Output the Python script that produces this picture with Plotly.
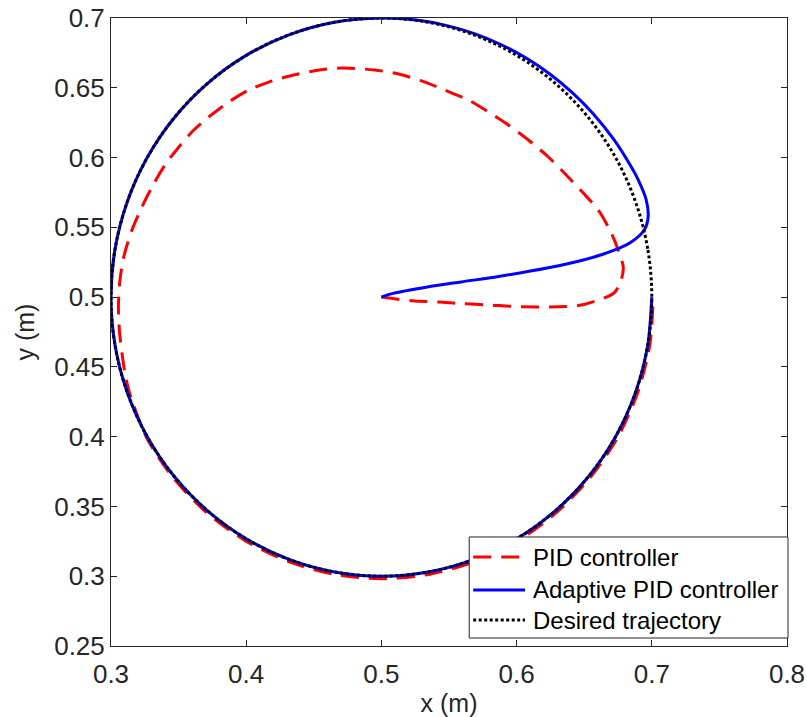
import plotly.graph_objects as go

# Desired circular trajectory (centre 0.5, 0.5; radius 0.2), every 10 degrees
desired_x = [0.7, 0.69696, 0.68794, 0.67321, 0.65321, 0.62856, 0.6, 0.5684, 0.53473, 0.5,
             0.46527, 0.4316, 0.4, 0.37144, 0.34679, 0.32679, 0.31206, 0.30304, 0.3,
             0.30304, 0.31206, 0.32679, 0.34679, 0.37144, 0.4, 0.4316, 0.46527, 0.5,
             0.53473, 0.5684, 0.6, 0.62856, 0.65321, 0.67321, 0.68794, 0.69696, 0.7]
desired_y = [0.5, 0.53473, 0.5684, 0.6, 0.62856, 0.65321, 0.67321, 0.68794, 0.69696, 0.7,
             0.69696, 0.68794, 0.67321, 0.65321, 0.62856, 0.6, 0.5684, 0.53473, 0.5,
             0.46527, 0.4316, 0.4, 0.37144, 0.34679, 0.32679, 0.31206, 0.30304, 0.3,
             0.30304, 0.31206, 0.32679, 0.34679, 0.37144, 0.4, 0.4316, 0.46527, 0.5]

# PID controller response
pid_x = [0.5, 0.5223, 0.5422, 0.5592, 0.5799, 0.6, 0.6309, 0.6479, 0.6648, 0.6722, 0.6774,
         0.6789, 0.6759, 0.670, 0.6604, 0.6479, 0.6353, 0.6235, 0.6087, 0.5939, 0.5792,
         0.5644, 0.5467, 0.5297, 0.5127, 0.495, 0.4706, 0.4507, 0.4315, 0.4167, 0.4019,
         0.3871, 0.3724, 0.3598, 0.3502, 0.3399, 0.3303, 0.3229, 0.3155, 0.3095, 0.3065,
         0.3055, 0.3062, 0.3081, 0.3103, 0.3135, 0.3265, 0.3460, 0.3705, 0.3993, 0.4310,
         0.4650, 0.5, 0.5350, 0.5690, 0.6008, 0.6293, 0.6541, 0.6744, 0.6893, 0.6984, 0.7010]
pid_y = [0.5, 0.4974, 0.4965, 0.4953, 0.4944, 0.4932, 0.4931, 0.4943, 0.4994, 0.503, 0.5123,
         0.5216, 0.5316, 0.546, 0.5624, 0.5760, 0.5889, 0.6004, 0.6126, 0.6233, 0.6326,
         0.6412, 0.6484, 0.6549, 0.6599, 0.6627, 0.6642, 0.6622, 0.6583, 0.6541, 0.6484,
         0.6398, 0.6291, 0.6183, 0.6076, 0.5947, 0.5789, 0.5646, 0.5481, 0.5290, 0.5110,
         0.4929, 0.4764, 0.46, 0.4456, 0.4320, 0.3990, 0.3706, 0.3458, 0.3255, 0.3106,
         0.3013, 0.2982, 0.3013, 0.3105, 0.3253, 0.3455, 0.3703, 0.3988, 0.4309, 0.4650, 0.4985]

# Adaptive PID controller response
apid_x = [0.5, 0.508, 0.535, 0.559, 0.5866, 0.6235, 0.6479, 0.6722, 0.6848, 0.6944, 0.6973,
          0.69586, 0.69005, 0.68477, 0.67213, 0.65665, 0.64137, 0.6248, 0.60704, 0.58829,
          0.56871, 0.5485, 0.5244, 0.5, 0.46527, 0.4316, 0.4, 0.37144, 0.34679, 0.32679,
          0.31206, 0.30304, 0.3, 0.30304, 0.31206, 0.32679, 0.34679, 0.37144, 0.4, 0.4316,
          0.46527, 0.5, 0.53473, 0.5684, 0.6, 0.62856, 0.65321, 0.67321, 0.68794, 0.69696, 0.7]
apid_y = [0.5, 0.5025, 0.5074, 0.5109, 0.5148, 0.5210, 0.5262, 0.5336, 0.5395, 0.5481, 0.5574,
          0.56975, 0.58381, 0.59334, 0.61264, 0.63145, 0.64638, 0.65973, 0.6713, 0.68102,
          0.68879, 0.69455, 0.6987, 0.7, 0.69696, 0.68794, 0.67321, 0.65321, 0.62856, 0.6,
          0.5684, 0.53473, 0.5, 0.46527, 0.4316, 0.4, 0.37144, 0.34679, 0.32679, 0.31206,
          0.30304, 0.3, 0.30304, 0.31206, 0.32679, 0.34679, 0.37144, 0.4, 0.4316, 0.46527, 0.5]

x_ticks = [0.3, 0.4, 0.5, 0.6, 0.7, 0.8]
y_ticks = [0.25, 0.3, 0.35, 0.4, 0.45, 0.5, 0.55, 0.6, 0.65, 0.7]

series_names = ["PID controller", "Adaptive PID controller", "Desired trajectory"]
series_colors = ["#ff0000", "#0000ff", "#000000"]
series_dashes = ["18px,10px", "solid", "3px,2.5px"]

FONT = "Liberation Sans, Arial, sans-serif"
AXIS_COLOR = "#262626"

fig = go.Figure()
fig.add_trace(go.Scatter(x=pid_x, y=pid_y, mode="lines", name=series_names[0],
                         line=dict(color=series_colors[0], width=3, dash=series_dashes[0],
                                   shape="spline", smoothing=0.8)))
fig.add_trace(go.Scatter(x=apid_x, y=apid_y, mode="lines", name=series_names[1],
                         line=dict(color=series_colors[1], width=3, dash=series_dashes[1],
                                   shape="spline", smoothing=0.8)))
fig.add_trace(go.Scatter(x=desired_x, y=desired_y, mode="lines", name=series_names[2],
                         line=dict(color=series_colors[2], width=3, dash=series_dashes[2],
                                   shape="spline", smoothing=1)))

axis_common = dict(
    showgrid=False, zeroline=False, showline=True, linecolor=AXIS_COLOR, linewidth=1,
    mirror="ticks", ticks="inside", ticklen=6, tickwidth=1, tickcolor=AXIS_COLOR,
    tickfont=dict(family=FONT, size=26, color=AXIS_COLOR),
)

fig.update_xaxes(range=[0.3, 0.8], tickvals=x_ticks, ticktext=[f"{v:g}" for v in x_ticks],
                 ticklabelstandoff=5,
                 title=dict(text="x (m)", font=dict(family=FONT, size=25, color=AXIS_COLOR),
                            standoff=10),
                 **axis_common)
fig.update_yaxes(range=[0.25, 0.7], tickvals=y_ticks, ticktext=[f"{v:g}" for v in y_ticks],
                 title=dict(text="y (m)", font=dict(family=FONT, size=25, color=AXIS_COLOR),
                            standoff=12),
                 **axis_common)

# Boxed legend in the lower-right corner of the axes (paper coordinates)
box_x0, box_x1, box_y0, box_y1 = 0.5299, 1.0015, 0.0127, 0.1736
row_y = [0.1417, 0.0892, 0.0414]
sample_x0, sample_x1, text_x = 0.5358, 0.6125, 0.6208

shapes = [dict(type="rect", xref="paper", yref="paper",
               x0=box_x0, x1=box_x1, y0=box_y0, y1=box_y1,
               line=dict(color=AXIS_COLOR, width=1), fillcolor="white", layer="above")]
annotations = []
for name, color, dash, yy in zip(series_names, series_colors, series_dashes, row_y):
    shapes.append(dict(type="line", xref="paper", yref="paper",
                       x0=sample_x0, x1=sample_x1, y0=yy, y1=yy, layer="above",
                       line=dict(color=color, width=3, dash=dash)))
    annotations.append(dict(xref="paper", yref="paper", x=text_x, y=yy,
                            xanchor="left", yanchor="middle", showarrow=False,
                            text=name, font=dict(family=FONT, size=24, color="#000000")))

fig.update_layout(
    width=807, height=717,
    margin=dict(l=110.5, r=20, t=18, b=71, autoexpand=False),
    paper_bgcolor="white", plot_bgcolor="white",
    showlegend=False,
    shapes=shapes, annotations=annotations,
)

fig.write_html("out.html")
